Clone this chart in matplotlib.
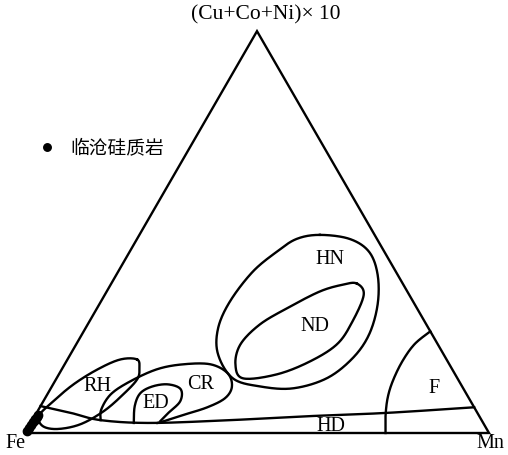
import numpy as np
import matplotlib.pyplot as plt

plt.rcParams['font.family'] = ['Liberation Serif', 'DejaVu Serif']

# 样品 (Mn %, (Cu+Co+Ni)x10 %)，Fe 为余量
sample_mn = [0.2, 0.25, 0.3, 0.35, 0.5, 0.6, 0.55, 0.4]
sample_cu = [0.5, 1.2, 2.0, 2.7, 3.2, 4.0, 4.5, 3.6]

# 各成因区边界控制点 (Mn %, (Cu+Co+Ni)x10 %)
hn_mn = [38.9, 45.8, 51.6, 56.3, 60.0, 61.9, 61.3, 58.2, 52.1, 44.8, 38.0, 31.8, 28.6, 27.8, 29.0, 31.7, 34.4]
hn_cu = [49.3, 48.3, 45.1, 39.4, 32.0, 24.5, 18.6, 13.6, 11.1, 11.6, 13.6, 19.6, 26.0, 32.7, 40.1, 45.1, 48.3]

nd_mn = [52.9, 55.8, 56.7, 56.2, 52.5, 47.0, 40.2, 36.8, 35.4, 37.1, 40.9, 45.9, 50.0]
nd_cu = [37.2, 34.4, 27.7, 22.1, 17.8, 14.6, 13.6, 17.1, 22.1, 27.0, 31.0, 35.2, 36.9]

rh_mn = [15.0, 16.6, 17.5, 16.4, 14.3, 10.9, 6.6, 3.0, 0.9, 1.9, 4.4, 7.8, 11.4]
rh_cu = [18.3, 16.1, 13.4, 9.7, 5.5, 2.2, 1.0, 1.7, 4.2, 7.4, 12.1, 15.9, 18.3]

cr_mn = [14.7, 13.5, 13.7, 16.3, 20.6, 25.6, 31.4, 36.2, 38.8, 38.8, 36.1, 31.9, 29.1, 27.3]
cr_cu = [3.2, 5.9, 9.7, 12.9, 15.9, 17.1, 17.1, 14.9, 11.6, 8.7, 6.4, 4.5, 3.2, 2.5]

ed_mn = [22.2, 20.3, 19.9, 21.7, 24.8, 28.1, 29.5, 28.4, 27.7]
ed_cu = [2.5, 6.7, 9.9, 11.6, 12.1, 10.9, 7.9, 5.0, 3.0]

hd_mn = [0.0, 7.4, 14.7, 25.8, 42.6, 59.3, 75.4, 93.6]
hd_cu = [6.7, 5.0, 3.2, 2.5, 3.2, 4.2, 5.0, 6.4]

f_mn = [77.7, 75.6, 73.8, 72.8, 72.4, 72.9, 74.7]
f_cu = [0.0, 4.2, 8.7, 12.9, 17.8, 22.1, 25.3]

field_names = ['HN', 'ND', 'RH', 'ED', 'CR', 'F', 'HD']
label_mn = [44.1, 49.2, 9.9, 24.4, 31.7, 82.6, 65.1]
label_cu = [43.1, 26.5, 11.6, 7.4, 12.1, 11.1, 1.6]


def tern(mn, cu):
    mn = np.asarray(mn, float) / 100
    cu = np.asarray(cu, float) / 100
    return mn + cu / 2, cu * np.sqrt(3) / 2


def smooth(mn, cu, closed, n=24):
    x, y = tern(mn, cu)
    p = np.column_stack([x, y])
    if closed:
        p = np.vstack([p[-1], p, p[0], p[1]])
    else:
        p = np.vstack([p[0], p, p[-1]])
    out = []
    t = np.linspace(0, 1, n, endpoint=False)[:, None]
    for i in range(1, len(p) - 2):
        p0, p1, p2, p3 = p[i - 1], p[i], p[i + 1], p[i + 2]
        out.append(0.5 * (2 * p1 + (-p0 + p2) * t
                          + (2 * p0 - 5 * p1 + 4 * p2 - p3) * t ** 2
                          + (-p0 + 3 * p1 - 3 * p2 + p3) * t ** 3))
    out.append(p[1][None, :] if closed else p[-2][None, :])
    return np.vstack(out)


S = 464.0  # 三角形边长 (像素)
fig = plt.figure(figsize=(5.08, 4.55), dpi=100)
ax = fig.add_axes([0, 0, 1, 1])
ax.set_xlim(-25 / S, 483 / S)
ax.set_ylim(-22 / S, 433 / S)
ax.axis('off')

lw = 1.7
# 三角形
tx, ty = tern([0, 100, 0, 0], [0, 0, 100, 0])
ax.plot(tx, ty, color='k', lw=lw, solid_joinstyle='miter')

for mn, cu, closed in [(hn_mn, hn_cu, True), (nd_mn, nd_cu, True), (rh_mn, rh_cu, True),
                       (cr_mn, cr_cu, False), (ed_mn, ed_cu, False),
                       (hd_mn, hd_cu, False), (f_mn, f_cu, False)]:
    c = smooth(mn, cu, closed)
    ax.plot(c[:, 0], c[:, 1], color='k', lw=lw)

lx, ly = tern(label_mn, label_cu)
for name, x, y in zip(field_names, lx, ly):
    ax.text(x, y, name, ha='center', va='center', fontsize=14.5)

sx, sy = tern(sample_mn, sample_cu)
pts, = ax.plot(sx, sy, 'o', color='k', ms=6, ls='none')

ax.text(-9 / S, -10 / S, 'Fe', ha='center', va='center', fontsize=14.5)
ax.text(1 + 1 / S, -10 / S, 'Mn', ha='center', va='center', fontsize=14.5)
ax.text(0.5 + 9 / S, (433 - 15) / S, '(Cu+Co+Ni)× 10', ha='center', va='center', fontsize=15.5)

ax.legend([pts], ['临沧硅质岩'], loc='center left', bbox_to_anchor=(33 / 508, 1 - 148 / 455),
          frameon=False, handlelength=0.5, handletextpad=1.0, borderpad=0, markerscale=0.9,
          prop={'family': ['Noto Sans CJK SC', 'DejaVu Sans'], 'size': 13.5})

fig.savefig('out.png', dpi=100)
